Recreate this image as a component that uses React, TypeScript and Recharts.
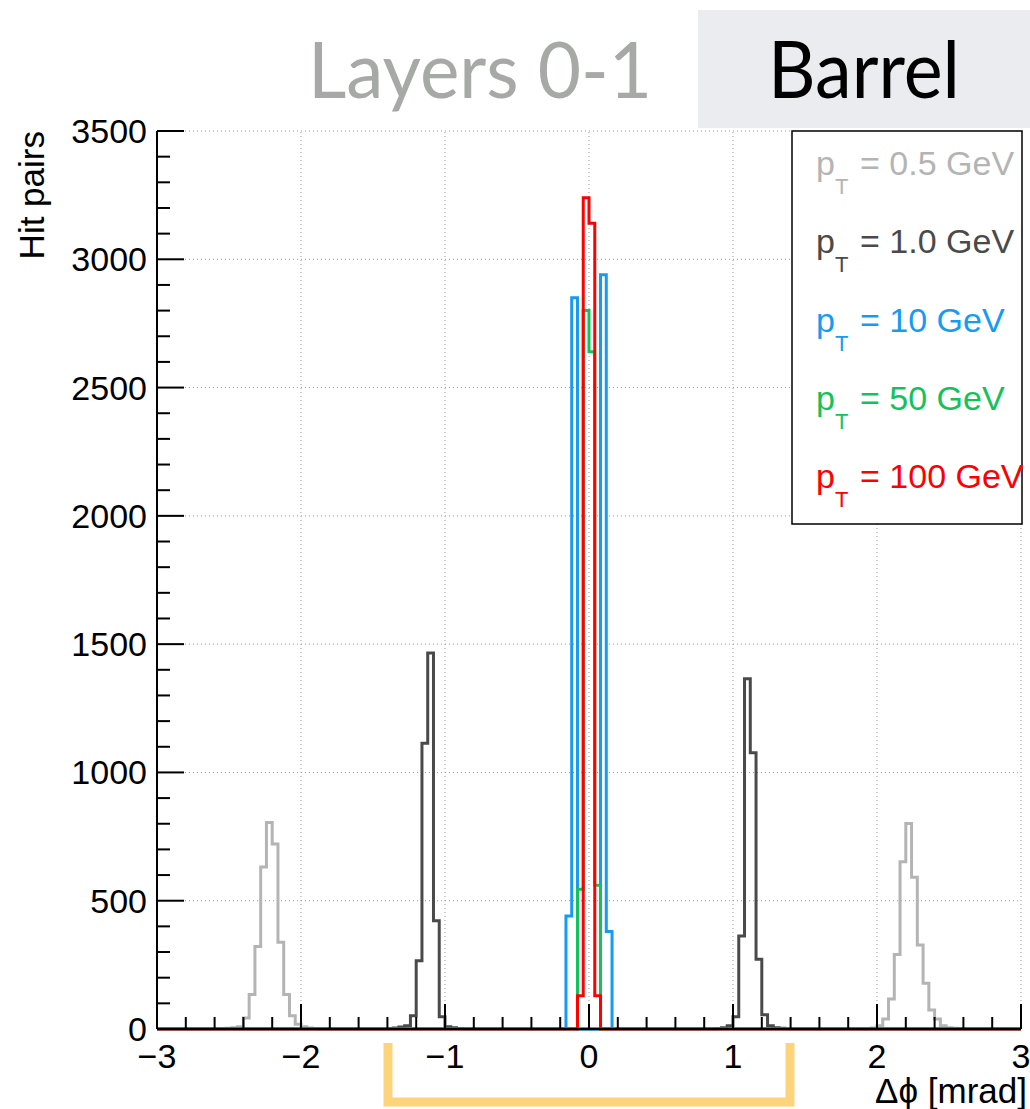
import React from "react";
import { LineChart, Line, XAxis, YAxis, ReferenceLine } from "recharts";

const WIDTH = 1030;
const HEIGHT = 1109;
const FONT = "'Liberation Sans', Arial, Helvetica, sans-serif";
const TITLE_FONT = "Lato, 'Open Sans', sans-serif";

// histogram binning: 150 bins of 0.04 mrad from -3 to 3
const X_MIN = -3;
const X_MAX = 3;
const BIN_WIDTH = 0.04;

const X_MAJOR_TICKS = [-3, -2, -1, 0, 1, 2, 3];
const X_MINOR_TICKS = [
  -2.8, -2.6, -2.4, -2.2, -1.8, -1.6, -1.4, -1.2, -0.8, -0.6, -0.4, -0.2,
  0.2, 0.4, 0.6, 0.8, 1.2, 1.4, 1.6, 1.8, 2.2, 2.4, 2.6, 2.8,
];
const Y_MAJOR_TICKS = [0, 500, 1000, 1500, 2000, 2500, 3000, 3500];
const Y_MINOR_TICKS = [
  100, 200, 300, 400, 600, 700, 800, 900, 1100, 1200, 1300, 1400, 1600, 1700,
  1800, 1900, 2100, 2200, 2300, 2400, 2600, 2700, 2800, 2900, 3100, 3200, 3300, 3400,
];

// non-empty bins of each sample (counts start at the given low edge)
const PT05_LEFT_START = -2.6;
const pt05Left = [1, 2, 3, 5, 9, 43, 134, 322, 631, 805, 721, 338, 134, 52, 19, 9, 4, 2, 1];
const PT05_RIGHT_START = 1.92;
const pt05Right = [2, 4, 13, 39, 117, 290, 652, 801, 591, 327, 178, 74, 39, 13, 5, 3, 2, 1];

const PT1_LEFT_START = -1.4;
const pt1Left = [2, 4, 8, 13, 52, 266, 1114, 1465, 422, 48, 9, 5, 2];
const PT1_RIGHT_START = 0.88;
const pt1Right = [2, 5, 13, 48, 362, 1365, 1077, 272, 56, 13, 5, 3, 1];

const PT10_START = -0.16;
const pt10 = [440, 2850, 0, 0, 0, 0, 2940, 380];

const PT50_START = -0.08;
const pt50 = [545, 2800, 2640, 560];

const PT100_START = -0.08;
const pt100 = [130, 3240, 3140, 130];

const SERIES = [
  { key: "pt05", label: "0.5 GeV", color: "#b4b4b4", peaks: [[PT05_LEFT_START, pt05Left], [PT05_RIGHT_START, pt05Right]] },
  { key: "pt1", label: "1.0 GeV", color: "#4a4a4a", peaks: [[PT1_LEFT_START, pt1Left], [PT1_RIGHT_START, pt1Right]] },
  { key: "pt10", label: "10 GeV", color: "#159bf3", peaks: [[PT10_START, pt10]] },
  { key: "pt50", label: "50 GeV", color: "#12c35a", peaks: [[PT50_START, pt50]] },
  { key: "pt100", label: "100 GeV", color: "#ff0000", peaks: [[PT100_START, pt100]] },
] as { key: string; label: string; color: string; peaks: [number, number[]][] }[];

const NBINS = Math.round((X_MAX - X_MIN) / BIN_WIDTH);
const binIndex = (x: number) => Math.round((x - X_MIN) / BIN_WIDTH);

function fillBins(peaks: [number, number[]][]) {
  const arr: number[] = new Array(NBINS + 1).fill(0);
  peaks.forEach(([start, counts]) => {
    const i0 = binIndex(start);
    counts.forEach((c, k) => {
      arr[i0 + k] = c;
    });
  });
  return arr;
}

const filled = SERIES.map((s) => fillBins(s.peaks));
// one row per bin low edge; the last row closes the final bin for stepAfter
const rows = Array.from({ length: NBINS + 1 }, (_, i) => {
  const row: Record<string, number> = { x: Math.round((X_MIN + i * BIN_WIDTH) * 100) / 100 };
  SERIES.forEach((s, j) => {
    row[s.key] = filled[j][i];
  });
  return row;
});

const PLOT = { left: 157, top: 131, right: 1021, bottom: 1029 };
const Y_AXIS_W = 60;
const X_AXIS_H = 30;

const fmtX = (v: number) => (v < 0 ? `\u2212${Math.abs(v)}` : `${v}`);

function XTick(props: any) {
  const { x, y, payload } = props;
  const major = X_MAJOR_TICKS.includes(payload.value);
  return (
    <g>
      <line x1={x} x2={x} y1={y} y2={y - (major ? 25 : 12)} stroke="#000" strokeWidth={2} />
      {major && (
        <text x={x} y={y + 39} textAnchor="middle" fontSize={34} fontFamily={FONT} fill="#000">
          {fmtX(payload.value)}
        </text>
      )}
    </g>
  );
}

function YTick(props: any) {
  const { x, y, payload } = props;
  const major = Y_MAJOR_TICKS.includes(payload.value);
  return (
    <g>
      <line x1={x} x2={x + (major ? 27 : 13)} y1={y} y2={y} stroke="#000" strokeWidth={2} />
      {major && (
        <text x={x - 10} y={y + 12} textAnchor="end" fontSize={34} fontFamily={FONT} fill="#000">
          {payload.value}
        </text>
      )}
    </g>
  );
}

const LEGEND_ROWS_Y = [175, 253, 332, 410, 488];

export default function App() {
  const xTicks = [...X_MAJOR_TICKS, ...X_MINOR_TICKS].sort((a, b) => a - b);
  const yTicks = [...Y_MAJOR_TICKS, ...Y_MINOR_TICKS].sort((a, b) => a - b);

  return (
    <div style={{ position: "absolute", left: 0, top: 0, width: WIDTH, height: HEIGHT, background: "#fff" }}>
      <LineChart
        width={WIDTH}
        height={HEIGHT}
        data={rows}
        margin={{
          top: PLOT.top,
          left: PLOT.left - Y_AXIS_W,
          right: WIDTH - PLOT.right,
          bottom: HEIGHT - PLOT.bottom - X_AXIS_H,
        }}
      >
        {X_MAJOR_TICKS.filter((v) => v !== X_MIN).map((v) => (
          <ReferenceLine key={`gx${v}`} x={v} stroke="#9a9a9a" strokeWidth={1} strokeDasharray="1 3" />
        ))}
        {Y_MAJOR_TICKS.filter((v) => v !== 0).map((v) => (
          <ReferenceLine key={`gy${v}`} y={v} stroke="#9a9a9a" strokeWidth={1} strokeDasharray="1 3" />
        ))}
        <XAxis
          dataKey="x"
          type="number"
          domain={[X_MIN, X_MAX]}
          ticks={xTicks}
          interval={0}
          height={X_AXIS_H}
          tickSize={0}
          tickMargin={0}
          tickLine={false}
          tick={XTick}
          axisLine={{ stroke: "#000", strokeWidth: 2 }}
        />
        <YAxis
          type="number"
          domain={[0, 3500]}
          ticks={yTicks}
          interval={0}
          width={Y_AXIS_W}
          tickSize={0}
          tickMargin={0}
          tickLine={false}
          tick={YTick}
          axisLine={{ stroke: "#000", strokeWidth: 2 }}
        />
        {SERIES.map((s) => (
          <Line
            key={s.key}
            dataKey={s.key}
            type="stepAfter"
            stroke={s.color}
            strokeWidth={3}
            dot={false}
            activeDot={false}
            isAnimationActive={false}
          />
        ))}
      </LineChart>

      <svg
        width={WIDTH}
        height={HEIGHT}
        style={{ position: "absolute", left: 0, top: 0, pointerEvents: "none" }}
      >
        {/* title */}
        <text x={308} y={98} fontSize={78} fontFamily={TITLE_FONT} fill="#a6a9a6" textLength={344} lengthAdjust="spacingAndGlyphs">
          Layers 0-1
        </text>
        <rect x={698} y={10} width={332} height={118} fill="#ebecf0" />
        <text x={768} y={98} fontSize={80} fontFamily={TITLE_FONT} fill="#000" textLength={192} lengthAdjust="spacingAndGlyphs">
          Barrel
        </text>

        {/* axis titles */}
        <text
          transform="translate(44,131) rotate(-90)"
          textAnchor="end"
          fontSize={35}
          fontFamily={FONT}
          fill="#000"
        >
          Hit pairs
        </text>
        <text x={1027} y={1103} textAnchor="end" fontSize={35} fontFamily={FONT} fill="#000">
          Δϕ [mrad]
        </text>

        {/* legend */}
        <rect x={792} y={131} width={230} height={393} fill="#fff" stroke="#000" strokeWidth={1.5} />
        {SERIES.map((s, i) => {
          const yb = LEGEND_ROWS_Y[i];
          return (
            <g key={s.key} fill={s.color} fontFamily={FONT}>
              <text x={816} y={yb} fontSize={34}>p</text>
              <text x={835} y={yb + 19} fontSize={22}>T</text>
              <text x={860} y={yb} fontSize={34}>= {s.label}</text>
            </g>
          );
        })}

        {/* bracket under the axis */}
        <path d="M388 1043 V1102 H790 V1043" fill="none" stroke="#fdd47c" strokeWidth={9} />
      </svg>
    </div>
  );
}
